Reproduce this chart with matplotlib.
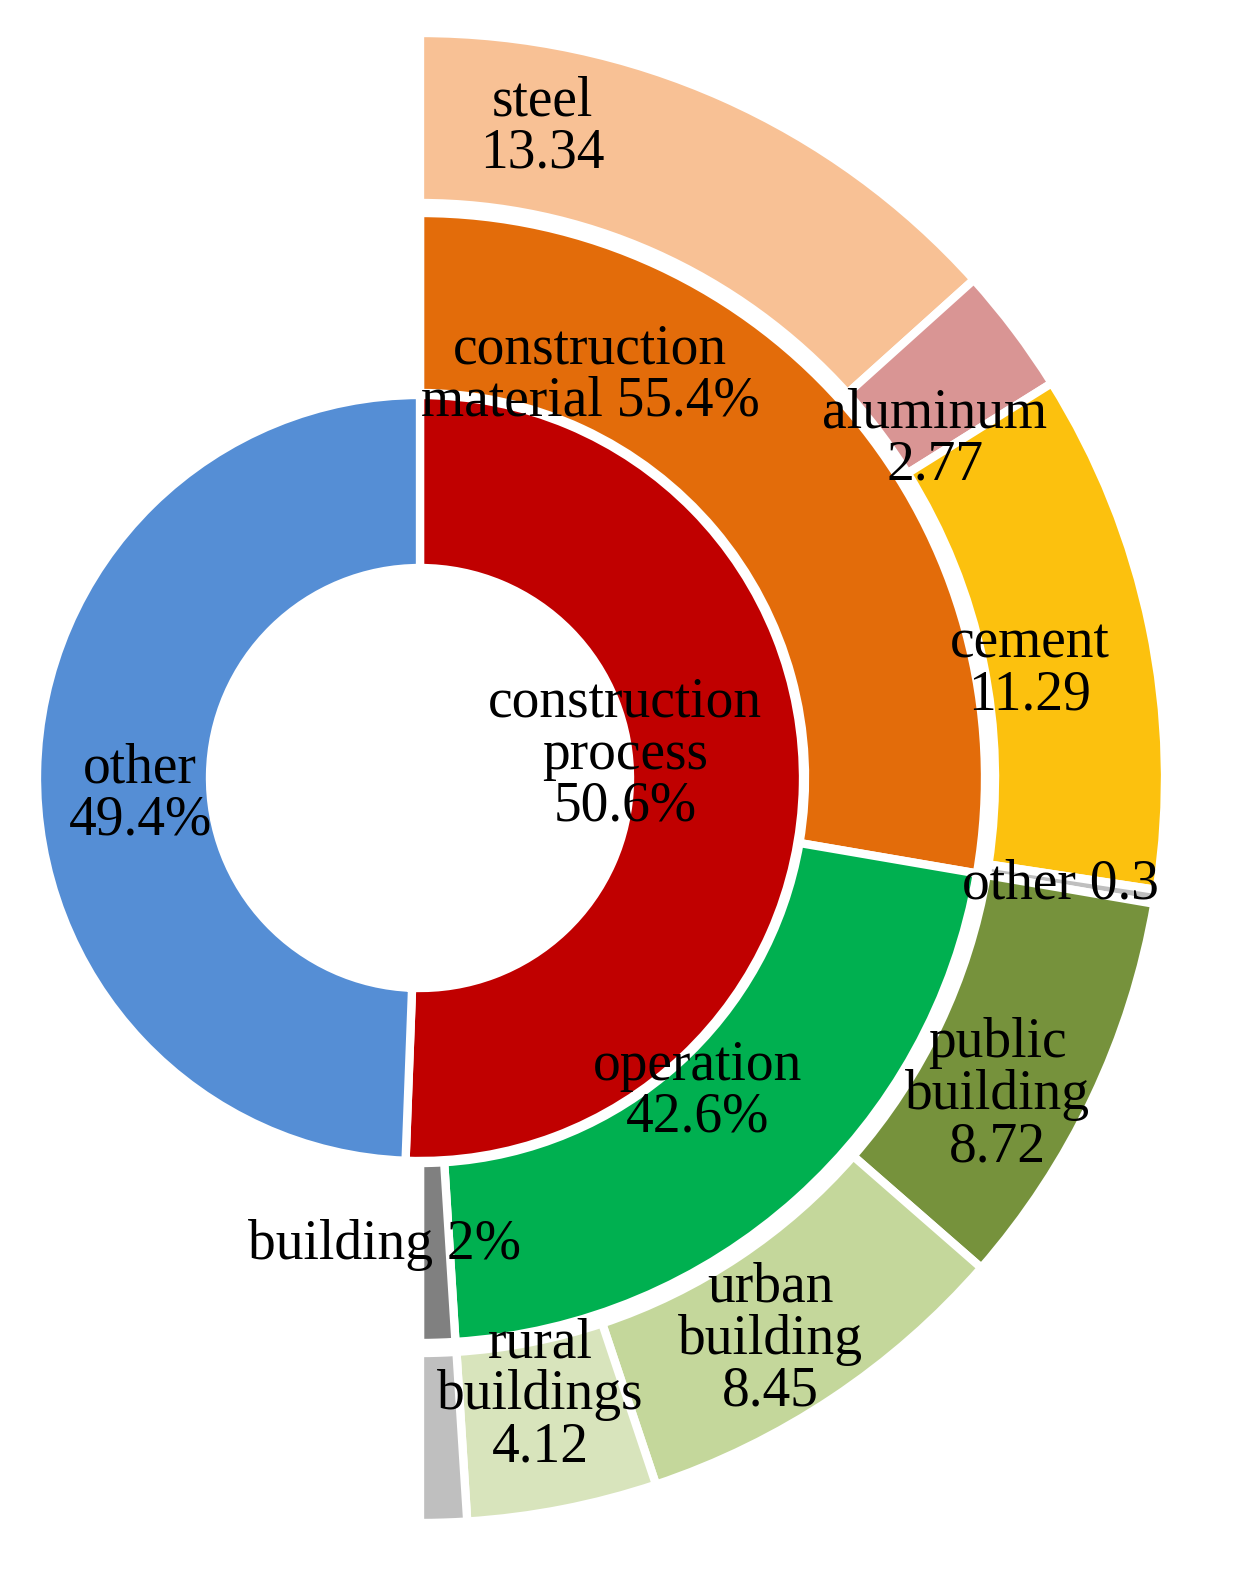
import matplotlib.pyplot as plt

inner_labels = ["construction\nprocess\n50.6%", "other\n49.4%"]
inner_vals = [50.6, 49.4]
inner_colors = ["#C00000", "#558ED5"]

mid_labels = ["construction\nmaterial 55.4%", "operation\n42.6%", "building 2%"]
mid_vals = [55.4, 42.6, 2.0]
mid_colors = ["#E36C0A", "#00B050", "#808080"]

outer_labels = ["steel\n13.34", "aluminum\n2.77", "cement\n11.29", "other 0.3",
                "public\nbuilding\n8.72", "urban\nbuilding\n8.45", "rural\nbuildings\n4.12", ""]
outer_vals = [13.34, 2.77, 11.29, 0.3, 8.72, 8.45, 4.12, 1.01]
outer_colors = ["#F8C195", "#D99594", "#FCC10E", "#BFBFBF", "#76923C", "#C4D79B", "#D8E4BC", "#BFBFBF"]

plt.rcParams['font.family'] = ['Liberation Serif', 'DejaVu Serif']
fig = plt.figure(figsize=(12.37, 15.86), dpi=100)
ax = fig.add_axes([0, 0, 1, 1])
cx, cy = 420, 778
ax.set_xlim(-cx, 1237 - cx)
ax.set_ylim(-(1586 - cy), cy)
ax.set_aspect('equal')
ax.axis('off')

wp = dict(edgecolor='white', linewidth=6)
ax.pie(inner_vals, radius=383, colors=inner_colors, startangle=90, counterclock=False,
       wedgeprops=dict(width=173, **wp))
mv = mid_vals + [sum(mid_vals)]
ax.pie(mv, radius=565, colors=mid_colors + ["none"], startangle=90, counterclock=False,
       wedgeprops=dict(width=180, **wp))
ov = outer_vals + [sum(outer_vals)]
w = ax.pie(ov, radius=745, colors=outer_colors + ["none"], startangle=90, counterclock=False,
           wedgeprops=dict(width=170, **wp))[0]
w[-1].set_edgecolor('none')
ax.set_xlim(-cx, 1237 - cx)
ax.set_ylim(-(1586 - cy), cy)

fs = 40
pos = {
    "steel\n13.34": (122, 650), "aluminum\n2.77": (515, 338), "cement\n11.29": (610, 108),
    "other 0.3": (640, -107), "public\nbuilding\n8.72": (577, -317),
    "urban\nbuilding\n8.45": (350, -562), "rural\nbuildings\n4.12": (120, -617),
    "construction\nmaterial 55.4%": (170, 403), "operation\n42.6%": (278, -314),
    "building 2%": (-35, -467), "construction\nprocess\n50.6%": (205, 23),
    "other\n49.4%": (-280, -17),
}
for lab, (x, y) in pos.items():
    ax.text(x, y, lab, ha='center', va='center', fontsize=fs, linespacing=1.0)

fig.savefig("out.png", dpi=100)
